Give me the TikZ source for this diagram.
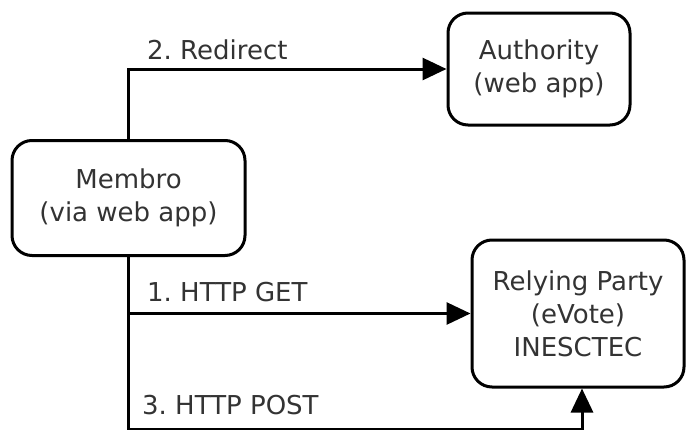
\documentclass[tikz,border=0pt]{standalone}
\usepackage{fontspec}
\setmainfont{DejaVu Sans}
\usetikzlibrary{arrows.meta}
\frenchspacing
\definecolor{txt}{HTML}{333333}
\tikzset{
  box/.style={draw=black, line width=3pt, rounded corners=20pt, align=center,
    text=txt, font=\fontsize{26}{33}\selectfont, inner sep=0pt},
  lbl/.style={text=txt, font=\fontsize{26}{30}\selectfont, anchor=west, inner sep=0pt},
  arr/.style={draw=black, line width=3pt, -{Triangle[length=24pt,width=22pt]}},
}
\begin{document}
\begin{tikzpicture}[x=1pt,y=-1pt]
  \useasboundingbox (0,0) rectangle (686,429);
  \fill[white] (0,0) rectangle (686,429);
  \node[box, minimum width=233pt, minimum height=115pt] (membro) at (128.5,198) {Membro\\(via web app)};
  \node[box, minimum width=182pt, minimum height=112pt] (auth) at (539,69) {Authority\\(web app)};
  \node[box, minimum width=212pt, minimum height=147pt] (rp) at (578,313.5) {Relying Party\\(eVote)\\INESCTEC};
  \coordinate (post) at (582,429);
  \draw[arr] (membro.north) |- (auth.west);
  \draw[arr] (membro.south) |- (rp.west);
  \draw[arr] (membro.south) |- (post) -- (post |- rp.south);
  \node[lbl] (l2) at (147,50) {2. Redirect};
  \node[lbl] (l1) at (147,292) {1. HTTP GET};
  \node[lbl] (l3) at (142,405) {3. HTTP POST};
\end{tikzpicture}
\end{document}
